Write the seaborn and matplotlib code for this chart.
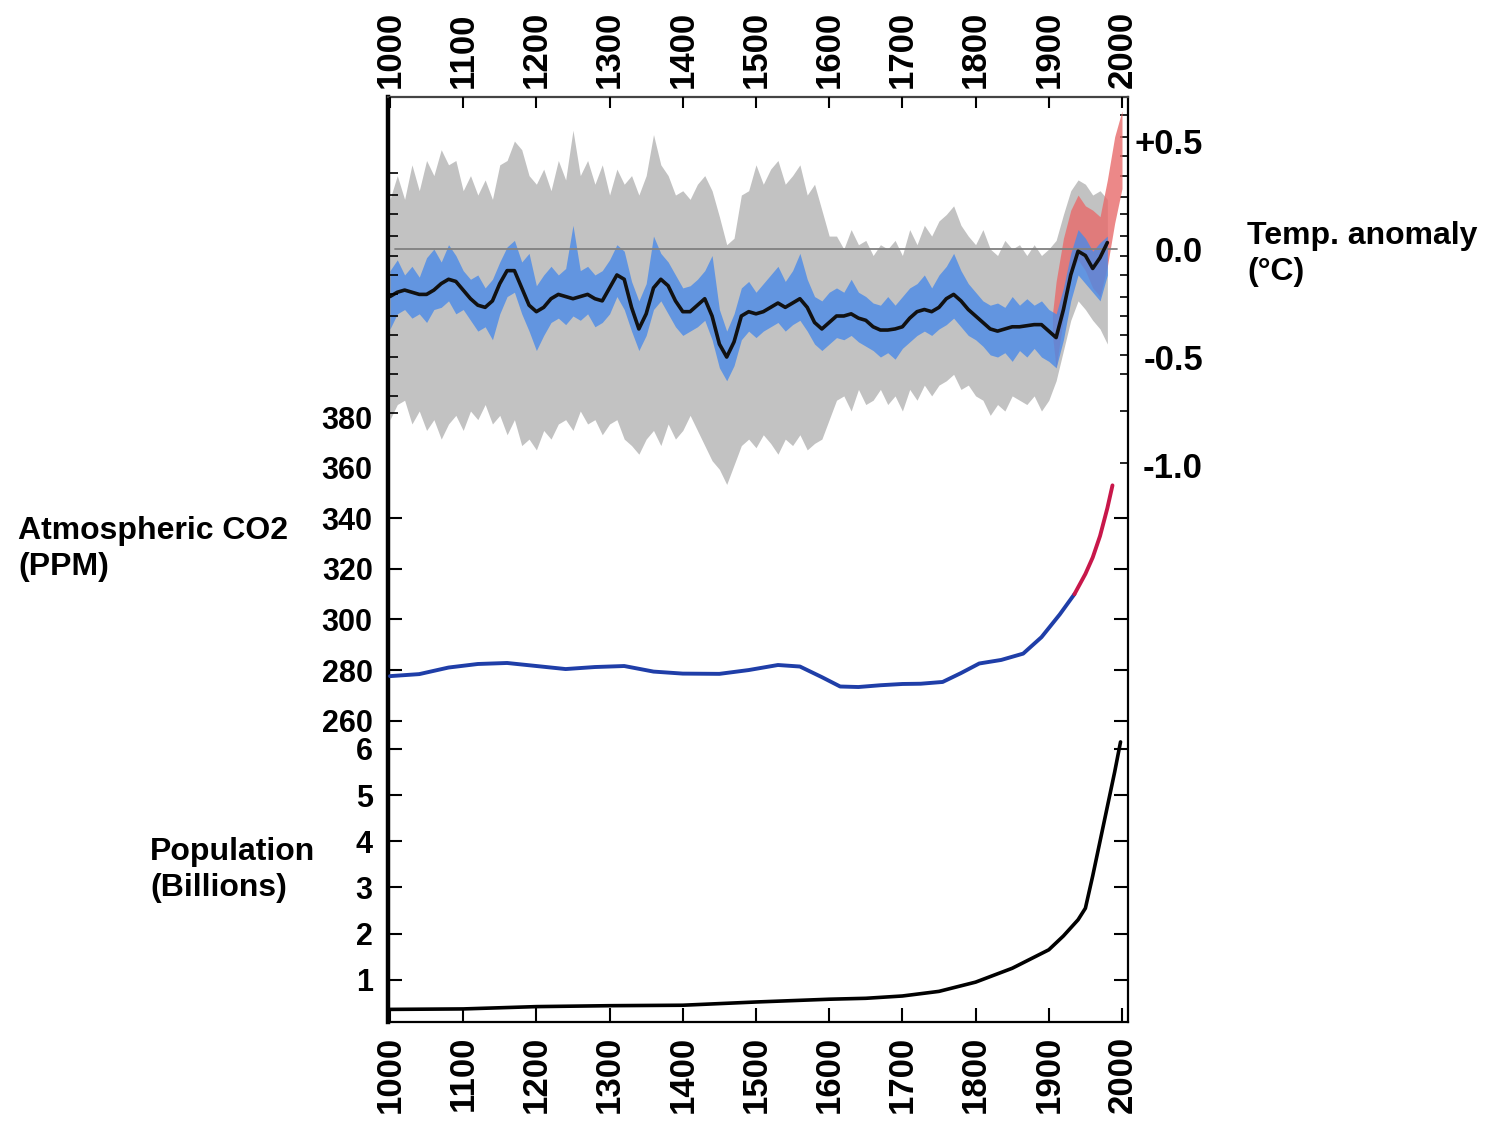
import numpy as np
import matplotlib.pyplot as plt
import pandas as pd
import seaborn as sns

# ---- data ----
decades = list(range(1000, 1990, 10))

temp_smooth = [-0.22, -0.20, -0.19, -0.20, -0.21, -0.21, -0.19, -0.16, -0.14, -0.15,
               -0.19, -0.23, -0.26, -0.27, -0.24, -0.16, -0.10, -0.10, -0.18, -0.26,
               -0.29, -0.27, -0.23, -0.21, -0.22, -0.23, -0.22, -0.21, -0.23, -0.24,
               -0.18, -0.12, -0.14, -0.27, -0.37, -0.30, -0.18, -0.14, -0.17, -0.24,
               -0.29, -0.29, -0.26, -0.23, -0.31, -0.44, -0.50, -0.43, -0.31, -0.29,
               -0.30, -0.29, -0.27, -0.25, -0.27, -0.25, -0.23, -0.27, -0.34, -0.37,
               -0.34, -0.31, -0.31, -0.30, -0.32, -0.33, -0.36, -0.375, -0.375, -0.37,
               -0.36, -0.32, -0.29, -0.28, -0.29, -0.27, -0.23, -0.21, -0.24, -0.28,
               -0.31, -0.34, -0.37, -0.38, -0.37, -0.36, -0.36, -0.355, -0.35, -0.35,
               -0.38, -0.41, -0.28, -0.12, -0.01, -0.03, -0.09, -0.04, 0.03]

proxy_hi = [-0.10, -0.05, -0.12, -0.08, -0.13, -0.04, 0.00, -0.06, 0.02, -0.03,
            -0.10, -0.14, -0.12, -0.18, -0.14, -0.06, 0.01, 0.04, -0.06, -0.02,
            -0.17, -0.12, -0.08, -0.12, -0.09, 0.11, -0.10, -0.08, -0.12, -0.10,
            -0.05, 0.02, -0.01, -0.15, -0.24, -0.16, 0.06, -0.02, -0.06, -0.12,
            -0.18, -0.17, -0.14, -0.10, -0.03, -0.28, -0.38, -0.30, -0.18, -0.15,
            -0.20, -0.16, -0.12, -0.08, -0.15, -0.10, -0.02, -0.14, -0.22, -0.24,
            -0.20, -0.18, -0.20, -0.14, -0.20, -0.22, -0.25, -0.26, -0.22, -0.26,
            -0.22, -0.18, -0.16, -0.12, -0.18, -0.12, -0.08, -0.02, -0.10, -0.16,
            -0.20, -0.24, -0.26, -0.25, -0.27, -0.22, -0.26, -0.23, -0.26, -0.24,
            -0.28, -0.30, -0.18, -0.02, 0.09, 0.05, -0.01, 0.03, 0.06]

proxy_lo = [-0.37, -0.30, -0.28, -0.32, -0.30, -0.34, -0.28, -0.27, -0.24, -0.30,
            -0.28, -0.33, -0.38, -0.36, -0.42, -0.30, -0.22, -0.20, -0.30, -0.38,
            -0.47, -0.40, -0.34, -0.32, -0.35, -0.31, -0.33, -0.30, -0.36, -0.34,
            -0.30, -0.22, -0.28, -0.38, -0.47, -0.40, -0.28, -0.24, -0.30, -0.36,
            -0.40, -0.38, -0.36, -0.33, -0.42, -0.55, -0.61, -0.54, -0.42, -0.38,
            -0.41, -0.38, -0.36, -0.34, -0.38, -0.35, -0.33, -0.38, -0.44, -0.47,
            -0.44, -0.41, -0.42, -0.40, -0.43, -0.45, -0.47, -0.50, -0.48, -0.51,
            -0.46, -0.43, -0.40, -0.38, -0.40, -0.37, -0.35, -0.32, -0.36, -0.40,
            -0.42, -0.45, -0.49, -0.50, -0.48, -0.52, -0.47, -0.50, -0.46, -0.50,
            -0.52, -0.55, -0.42, -0.24, -0.12, -0.16, -0.20, -0.24, -0.12]

uncert_hi = [0.23, 0.34, 0.23, 0.39, 0.27, 0.41, 0.34, 0.46, 0.39, 0.41,
             0.27, 0.34, 0.25, 0.32, 0.23, 0.39, 0.41, 0.50, 0.46, 0.34,
             0.30, 0.37, 0.27, 0.41, 0.32, 0.55, 0.34, 0.41, 0.30, 0.39,
             0.25, 0.37, 0.30, 0.34, 0.25, 0.34, 0.53, 0.39, 0.34, 0.25,
             0.27, 0.23, 0.30, 0.34, 0.27, 0.15, 0.02, 0.05, 0.25, 0.27,
             0.39, 0.30, 0.37, 0.41, 0.30, 0.34, 0.39, 0.25, 0.30, 0.18,
             0.06, 0.06, 0.00, 0.09, 0.02, 0.04, -0.03, 0.02, 0.00, 0.04,
             -0.03, 0.09, 0.02, 0.11, 0.06, 0.13, 0.16, 0.20, 0.11, 0.06,
             0.02, 0.09, 0.00, -0.03, 0.04, 0.00, 0.02, -0.03, 0.02, -0.03,
             0.00, 0.04, 0.16, 0.27, 0.32, 0.30, 0.25, 0.27, 0.23]

uncert_lo = [-0.79, -0.72, -0.70, -0.81, -0.75, -0.84, -0.79, -0.88, -0.81, -0.77,
             -0.84, -0.75, -0.79, -0.72, -0.81, -0.77, -0.86, -0.79, -0.91, -0.88,
             -0.93, -0.84, -0.88, -0.81, -0.79, -0.84, -0.75, -0.81, -0.79, -0.86,
             -0.81, -0.79, -0.88, -0.91, -0.95, -0.88, -0.84, -0.91, -0.81, -0.88,
             -0.84, -0.77, -0.84, -0.91, -0.98, -1.02, -1.09, -1.00, -0.91, -0.88,
             -0.92, -0.86, -0.90, -0.95, -0.88, -0.91, -0.86, -0.93, -0.90, -0.88,
             -0.79, -0.70, -0.68, -0.75, -0.65, -0.72, -0.70, -0.65, -0.72, -0.68,
             -0.75, -0.65, -0.70, -0.63, -0.68, -0.63, -0.61, -0.58, -0.65, -0.63,
             -0.68, -0.70, -0.77, -0.72, -0.75, -0.68, -0.70, -0.72, -0.68, -0.75,
             -0.70, -0.61, -0.47, -0.33, -0.24, -0.28, -0.33, -0.37, -0.44]

inst_years = [1905, 1910, 1920, 1930, 1940, 1950, 1960, 1970, 1980, 1990, 2000]
inst_hi = [-0.30, -0.15, 0.05, 0.18, 0.25, 0.20, 0.18, 0.15, 0.32, 0.52, 0.64]
inst_lo = [-0.40, -0.55, -0.32, -0.12, -0.05, -0.10, -0.18, -0.22, -0.08, 0.12, 0.28]

co2_ice_years = [1000, 1040, 1080, 1120, 1160, 1200, 1240, 1280, 1320, 1360,
                 1400, 1450, 1490, 1530, 1560, 1590, 1615, 1640, 1670, 1700,
                 1725, 1755, 1780, 1805, 1835, 1865, 1890, 1915, 1935]
co2_ice_ppm = [277.6, 278.4, 281.0, 282.4, 282.8, 281.6, 280.4, 281.2, 281.6, 279.4,
               278.6, 278.5, 280.0, 282.0, 281.4, 277.2, 273.5, 273.3, 274.0, 274.5,
               274.6, 275.3, 278.8, 282.6, 284.0, 286.5, 293.0, 302.0, 310.0]
co2_meas_years = [1935, 1950, 1960, 1970, 1980, 1987]
co2_meas_ppm = [310.0, 318.0, 324.5, 333.0, 344.0, 353.0]

pop_years = [1000, 1100, 1200, 1300, 1400, 1500, 1600, 1650, 1700, 1750,
             1800, 1850, 1900, 1920, 1940, 1950, 1960, 1970, 1980, 1990, 1998]
pop_billions = [0.36, 0.37, 0.42, 0.44, 0.45, 0.52, 0.58, 0.60, 0.65, 0.75,
                0.95, 1.25, 1.65, 1.95, 2.30, 2.55, 3.25, 4.00, 4.75, 5.50, 6.15]

year_ticks = list(range(1000, 2100, 100))
temp_ticks = [0.5, 0.0, -0.5, -1.0]
temp_labels = ['+0.5', '0.0', '-0.5', '-1.0']
co2_ticks = [260, 280, 300, 320, 340, 360, 380]
pop_ticks = [1, 2, 3, 4, 5, 6]

# ---- style ----
sns.set_theme(style='white', rc={'text.color': 'black', 'xtick.color': 'black',
                                 'ytick.color': 'black', 'axes.edgecolor': 'black'})
plt.rcParams['font.family'] = ['Liberation Sans', 'DejaVu Sans']
plt.rcParams['font.weight'] = 'bold'

W, H = 1486, 1123
fig = plt.figure(figsize=(W / 100, H / 100), dpi=100)
rect = [388 / W, 1 - 1022 / H, (1128 - 388) / W, (1022 - 97) / H]
XLIM = (997.3, 2008.2)

ax_t = fig.add_axes(rect)
ax_tl = fig.add_axes(rect)
ax_c = fig.add_axes(rect)
ax_p = fig.add_axes(rect)
for ax in (ax_tl, ax_c, ax_p):
    ax.patch.set_visible(False)
    for s in ax.spines.values():
        s.set_visible(False)
for ax in (ax_t, ax_tl, ax_c, ax_p):
    ax.set_xlim(XLIM)
    ax.grid(False)

# ---- temperature panel ----
ax_t.set_ylim(-3.579, 0.704)
ax_t.fill_between(decades, uncert_lo, uncert_hi, color='#c2c2c2', lw=0)
ax_t.fill_between(inst_years, inst_lo, inst_hi, color='#e86a6a', alpha=0.8, lw=0)
ax_t.fill_between(decades, proxy_lo, proxy_hi, color='#4a8ae8', alpha=0.8, lw=0)
ax_t.axhline(0, xmin=0.01, xmax=0.985, color='#808080', lw=1.3)
sns.lineplot(x=decades, y=temp_smooth, ax=ax_t, color='#111111', lw=2.6)

ax_t.set_xticks(year_ticks)
ax_t.tick_params(axis='x', which='major', direction='in', top=False, bottom=True,
                 labeltop=False, labelbottom=True, length=10, width=1.5,
                 labelsize=25, labelrotation=90, pad=10)
ax_t.set_yticks(temp_ticks, labels=temp_labels)
ax_t.set_yticks([0.62, 0.52, 0.43, 0.34, 0.24, 0.16, 0.06, -0.03, -0.12, -0.22,
                 -0.31, -0.40, -0.49, -0.58, -0.75, -0.99], minor=True)
ax_t.tick_params(axis='y', which='both', left=False, right=True,
                 labelleft=False, labelright=True, direction='in')
ax_t.tick_params(axis='y', which='major', length=0, labelsize=25, pad=54)
ax_t.tick_params(axis='y', which='minor', length=6, width=1.2)
for t in ax_t.yaxis.get_major_ticks():
    t.label2.set_horizontalalignment('right')

ax_t.spines['left'].set_linewidth(3.2)
ax_t.spines['right'].set_linewidth(1.6)
ax_t.spines['bottom'].set_linewidth(1.6)
ax_t.spines['top'].set_linewidth(1.6)
ax_t.spines['top'].set_color('#444444')
ax_t.set_xlabel('')
ax_t.set_ylabel('')

# left-hand ticks of the temperature panel
ax_tl.set_ylim(ax_t.get_ylim())
ax_tl.set_xticks([])
ax_tl.set_yticks([0.35, 0.25, 0.16, 0.06, -0.03, -0.12, -0.21, -0.31, -0.40,
                  -0.50, -0.58, -0.68, -0.76])
ax_tl.tick_params(axis='y', left=True, right=False, labelleft=False,
                  direction='in', length=7, width=1.2)

# ---- CO2 panel ----
ax_c.set_ylim(140.9, 506.5)
sns.lineplot(x=co2_ice_years, y=co2_ice_ppm, ax=ax_c, color='#1f3ea8', lw=2.8)
sns.lineplot(x=co2_meas_years, y=co2_meas_ppm, ax=ax_c, color='#c8174a', lw=2.8)
ax_c.set_xticks(year_ticks)
ax_c.tick_params(axis='x', direction='in', top=True, bottom=False, labeltop=True,
                 labelbottom=False, length=8, width=1.5, labelsize=25,
                 labelrotation=90, pad=6.5)
ax_c.set_yticks(co2_ticks, labels=[str(v) for v in co2_ticks])
ax_c.tick_params(axis='y', left=True, right=True, labelleft=True, labelright=False,
                 direction='in', length=10, width=1.5, labelsize=22, pad=11)
for t, v in zip(ax_c.yaxis.get_major_ticks(), co2_ticks):
    if v >= 360:
        t.tick1line.set_visible(False)
        t.tick2line.set_visible(False)
ax_c.set_xlabel('')
ax_c.set_ylabel('')

# ---- population panel ----
ax_p.set_ylim(0.087, 20.11)
sns.lineplot(x=pop_years, y=pop_billions, ax=ax_p, color='black', lw=2.6)
ax_p.set_xticks([])
ax_p.set_yticks(pop_ticks, labels=[str(v) for v in pop_ticks])
ax_p.tick_params(axis='y', left=True, right=True, labelleft=True, labelright=False,
                 direction='in', length=10, width=1.5, labelsize=22, pad=11)
ax_p.set_xlabel('')
ax_p.set_ylabel('')

# ---- side labels ----
fig.text(1247 / W, 1 - 221 / H, 'Temp. anomaly\n(°C)', fontsize=23,
         fontweight='bold', ha='left', va='top', linespacing=1.25)
fig.text(18 / W, 1 - 516 / H, 'Atmospheric CO2\n(PPM)', fontsize=23,
         fontweight='bold', ha='left', va='top', linespacing=1.25)
fig.text(150 / W, 1 - 837 / H, 'Population\n(Billions)', fontsize=23,
         fontweight='bold', ha='left', va='top', linespacing=1.25)

fig.savefig('out.png', dpi=100)
